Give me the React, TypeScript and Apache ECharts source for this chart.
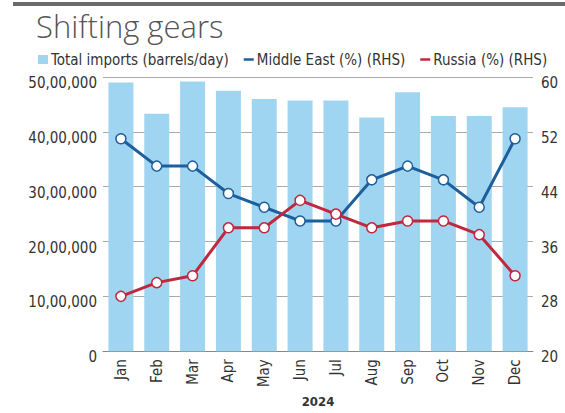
import React, { useEffect, useRef } from "react";
import * as echarts from "echarts";

const months = ["Jan", "Feb", "Mar", "Apr", "May", "Jun", "Jul", "Aug", "Sep", "Oct", "Nov", "Dec"];
const totalImports = [4900000, 4330000, 4920000, 4750000, 4600000, 4570000, 4570000, 4260000, 4720000, 4290000, 4290000, 4450000];
const middleEast = [51, 47, 47, 43, 41, 39, 39, 45, 47, 45, 41, 51];
const russia = [28, 30, 31, 38, 38, 42, 40, 38, 39, 39, 37, 31];
const leftTicks = ["0", "10,00,000", "20,00,000", "30,00,000", "40,00,000", "50,00,000"];

const FONT = "'DejaVu Sans Condensed', 'Liberation Sans Narrow', sans-serif";
const BAR = "#a0d5f1";
const BLUE = "#1d5f9c";
const RED = "#c1273d";

export default function App() {
  const ref = useRef<HTMLDivElement>(null);
  useEffect(() => {
    if (!ref.current) return;
    const chart = echarts.init(ref.current, null, { renderer: "svg" });
    chart.setOption({
      animation: false,
      backgroundColor: "#fff",
      textStyle: { fontFamily: FONT },
      title: {
        text: "Shifting gears",
        left: 31,
        top: 5,
        textStyle: { fontFamily: "'Open Sans', sans-serif", fontWeight: 300, fontSize: 31, color: "#555" },
      },
      graphic: [
        { type: "rect", left: 13, top: 2, shape: { width: 552, height: 4 }, style: { fill: "#6b6b6b" } },
      ],
      legend: {
        left: 33,
        top: 47,
        itemGap: 15,
        itemWidth: 10,
        itemHeight: 9,
        textStyle: { fontFamily: FONT, fontSize: 15, color: "#333", padding: [0, 0, 0, -2] },
        data: [
          { name: "Total imports (barrels/day)", icon: "rect", itemStyle: { color: BAR } },
          { name: "Middle East (%) (RHS)", icon: "path://M0,0h12v3h-12z", itemStyle: { color: BLUE, borderWidth: 0 } },
          { name: "Russia (%) (RHS)", icon: "path://M0,0h12v3h-12z", itemStyle: { color: RED, borderWidth: 0 } },
        ],
      },
      grid: { left: 103, right: 32, top: 77, bottom: 56 },
      xAxis: {
        type: "category",
        data: months,
        name: "2024",
        nameLocation: "middle",
        nameGap: 43,
        nameTextStyle: { fontFamily: FONT, fontWeight: "bold", fontSize: 13, color: "#333" },
        axisLine: { lineStyle: { color: "#888", width: 1 } },
        axisTick: { show: false },
        axisLabel: { rotate: 90, margin: 8, fontSize: 15, color: "#333", fontFamily: FONT },
      },
      yAxis: [
        {
          type: "value",
          min: 0,
          max: 5000000,
          interval: 1000000,
          axisLine: { show: false },
          axisTick: { show: false },
          splitLine: { lineStyle: { color: "#aaa", width: 1 } },
          axisLabel: {
            margin: 6,
            fontSize: 15,
            color: "#333",
            fontFamily: FONT,
            verticalAlign: "top",
            lineHeight: 12,
            formatter: (v: number) => leftTicks[Math.round(v / 1000000)] ?? "",
          },
        },
        {
          type: "value",
          min: 20,
          max: 60,
          interval: 8,
          axisLine: { show: false },
          axisTick: { show: false },
          splitLine: { show: false },
          axisLabel: { margin: 8, fontSize: 15, color: "#333", fontFamily: FONT, verticalAlign: "top", lineHeight: 12 },
        },
      ],
      series: [
        {
          name: "Total imports (barrels/day)",
          type: "bar",
          data: totalImports,
          barWidth: 25,
          itemStyle: { color: BAR },
          yAxisIndex: 0,
        },
        {
          name: "Middle East (%) (RHS)",
          type: "line",
          yAxisIndex: 1,
          data: middleEast,
          symbol: "circle",
          symbolSize: 10,
          lineStyle: { color: BLUE, width: 3 },
          itemStyle: { color: "#fff", borderColor: BLUE, borderWidth: 1.5 },
        },
        {
          name: "Russia (%) (RHS)",
          type: "line",
          yAxisIndex: 1,
          data: russia,
          symbol: "circle",
          symbolSize: 10,
          lineStyle: { color: RED, width: 3 },
          itemStyle: { color: "#fff", borderColor: RED, borderWidth: 1.5 },
        },
      ],
    });
    return () => chart.dispose();
  }, []);
  return <div ref={ref} style={{ width: 565, height: 413, position: "absolute", left: 0, top: 0 }} />;
}
